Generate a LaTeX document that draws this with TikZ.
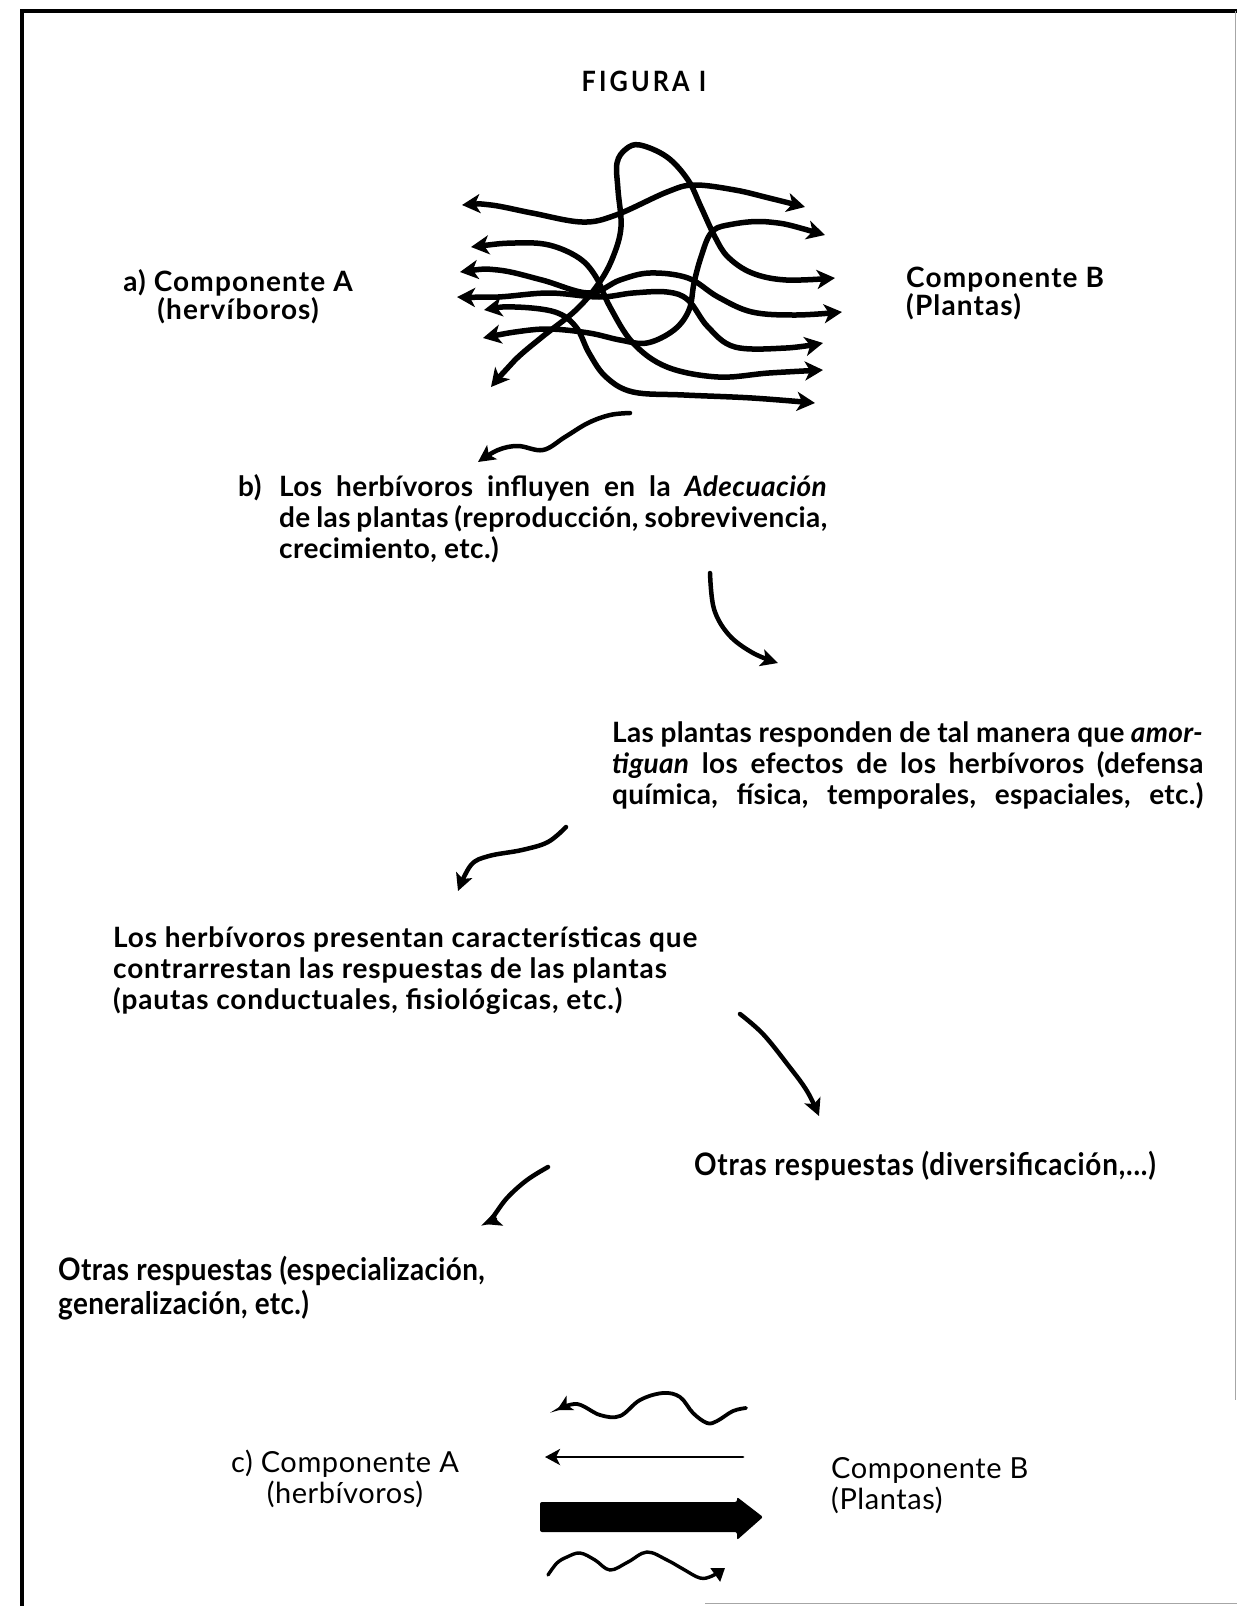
\documentclass[tikz,border=0pt]{standalone}
\usepackage{fontspec}
\setmainfont{Lato}
\newfontfamily\condfont{Lato}[FakeStretch=0.9]
\usetikzlibrary{arrows.meta}
\newcommand\jl[2]{\makebox[#1][s]{#2}}
\begin{document}
\begin{tikzpicture}[x=1pt,y=-1pt,
  base/.style={inner sep=0pt, align=left, anchor=base west},
  txt/.style={base, font=\fontsize{28}{31}\selectfont\bfseries\addfontfeature{LetterSpace=#1}},
  txt/.default=2,
  lbl/.style={inner sep=0pt, align=#1, font=\fontsize{28}{28}\selectfont\bfseries\addfontfeature{LetterSpace=4}},
  otxt/.style={base, font=\condfont\fontsize{31}{34}\selectfont\bfseries\addfontfeature{LetterSpace=#1}},
  rtxt/.style={inner sep=0pt, align=#1, font=\fontsize{29}{30.5}\selectfont\addfontfeature{LetterSpace=2}},
  curv/.style={line width=5.5pt, line cap=round, {Stealth[length=18pt,width=19pt,inset=5pt]}-{Stealth[length=18pt,width=19pt,inset=5pt]}},
  flow/.style={line width=4.5pt, line cap=round, -{Stealth[length=17pt,width=17pt,inset=4pt]}},
  border/.style={line width=4.5pt},
  faint/.style={line width=1pt, black!35},
]
\useasboundingbox (0,0) rectangle (1237,1606);
% frame
\draw[border] (22,1606) -- (22,11) -- (1237,11);
\draw[faint] (1235.5,11) -- (1235.5,1400);
\draw[faint] (705,1603) -- (1237,1603);

% texts
\node[inner sep=0pt, font=\condfont\fontsize{28}{30}\selectfont\bfseries\addfontfeature{LetterSpace=11}, anchor=base] (fig) at (644,91) {FIGURA I};
\node[lbl=center, anchor=base] (compA) at (238,319) {a) Componente A\\(hervíboros)};
\node[lbl=left, anchor=base west] (compB) at (906,315) {Componente B\\(Plantas)};
\node[txt] (blab) at (238,496) {b)};
\node[txt=1.5] (btxt) at (279,558) {\jl{548pt}{Los herbívoros influyen en la \textit{Adecuación}}\\\jl{548pt}{de las plantas (reproducción, sobrevivencia,}\\crecimiento, etc.)};
\node[txt=1] (plantas) at (612,804) {\jl{591pt}{Las plantas responden de tal manera que \textit{amor-}}\\\jl{591pt}{\textit{tiguan} los efectos de los herbívoros (defensa}\\\jl{591pt}{química, física, temporales, espaciales, etc.)}};
\node[txt=3] (herb) at (113,1009) {Los herbívoros presentan características que\\contrarrestan las respuestas de las plantas\\(pautas conductuales, fisiológicas, etc.)};
\node[otxt=2.5] (otras1) at (694,1175) {Otras respuestas (diversificación,...)};
\node[otxt=1.2] (otras2) at (58,1314) {Otras respuestas (especialización,\\generalización, etc.)};
\node[rtxt=center, anchor=base] (compA2) at (345,1503) {c) Componente A\\(herbívoros)};
\node[rtxt=left, anchor=base west] (compB2) at (831,1509) {Componente B\\(Plantas)};

% tangle of interactions
\draw[curv] plot[smooth, tension=0.6] coordinates {(462,205) (491,205) (532,213) (582,222) (616,215) (667,192) (694,185) (735,190) (769,198) (805,207)};
\draw[curv] plot[smooth, tension=0.6] coordinates {(491,387) (515,360) (542,337) (576,310) (599,283) (613,257) (621,227) (618,190) (617,163) (626,149) (640,145) (667,157) (688,180) (701,207) (715,237) (728,257) (752,273) (786,280) (835,278)};
\draw[curv] plot[smooth, tension=0.6] coordinates {(825,235) (769,222) (728,225) (711,233) (701,257) (694,283) (689,310) (674,330) (647,343) (620,340) (589,333) (549,329) (515,332) (483,338)};
\draw[curv] plot[smooth, tension=0.6] coordinates {(471,247) (515,243) (549,245) (579,258) (596,277) (610,307) (633,343) (667,367) (718,377) (769,373) (823,370)};
\draw[curv] plot[smooth, tension=0.6] coordinates {(460,272) (498,270) (542,280) (589,293) (620,280) (650,273) (688,278) (718,297) (752,312) (796,315) (842,312)};
\draw[curv] plot[smooth, tension=0.6] coordinates {(457,297) (498,297) (549,293) (599,297) (633,293) (667,292) (688,300) (708,327) (735,347) (786,348) (823,343)};
\draw[curv] plot[smooth, tension=0.6] coordinates {(484,310) (515,307) (555,312) (576,327) (589,353) (606,377) (633,392) (684,395) (752,398) (815,403)};

% flow arrows
\coordinate (f1s) at (630,413); \coordinate (f1e) at (478,462);
\draw[flow] plot[smooth, tension=0.6] coordinates {(f1s) (610,415) (588,423) (565,437) (543,450) (518,446) (498,450) (f1e)};
\coordinate (f2s) at (710,573); \coordinate (f2e) at (778,663);
\draw[flow] plot[smooth, tension=0.6] coordinates {(f2s) (714,609) (729,635) (753,653) (f2e)};
\coordinate (f3s) at (566,827); \coordinate (f3e) at (458,891);
\draw[flow] plot[smooth, tension=0.6] coordinates {(f3s) (548,842) (522,850) (489,856) (471,865) (f3e)};
\coordinate (f4s) at (740,1014); \coordinate (f4e) at (819,1116);
\draw[flow] plot[smooth, tension=0.6] coordinates {(f4s) (763,1034) (788,1065) (807,1091) (f4e)};
\coordinate (f5s) at (548,1167); \coordinate (f5e) at (484,1224);
\draw[flow] plot[smooth, tension=0.6] coordinates {(f5s) (527,1180) (507,1198) (492,1218) (f5e)};

% bottom arrows
\draw[line width=3.8pt, line cap=round, -{Stealth[length=15pt,width=16pt,inset=4pt]}] plot[smooth, tension=0.6] coordinates {(746,1408) (733,1411) (717,1421) (707,1423) (693,1413) (680,1397) (663,1393) (640,1400) (620,1416) (600,1415) (577,1404) (557,1410)};
\draw[line width=2.8pt, line cap=round, -{Stealth[length=15pt,width=16pt,inset=4pt]}] (743,1457) -- (545,1457);
\fill[rounded corners=2pt] (540,1502) -- (737,1502) -- (737,1497) -- (763,1517) -- (737,1540) -- (737,1532) -- (540,1532) -- cycle;
\draw[line width=3.4pt, line cap=round, -{Triangle[length=12pt,width=16pt]}] plot[smooth, tension=0.6] coordinates {(548,1575) (557,1563) (567,1557) (580,1553) (595,1560) (610,1570) (628,1562) (647,1552) (667,1560) (683,1569) (700,1578) (712,1576) (725,1568)};
\end{tikzpicture}
\end{document}
